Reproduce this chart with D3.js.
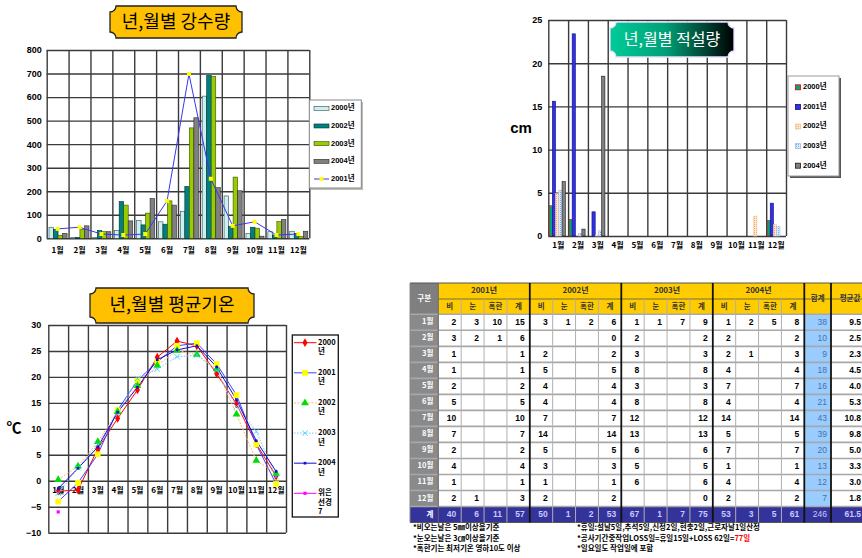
<!DOCTYPE html>
<html><head><meta charset="utf-8">
<script src="https://cdn.jsdelivr.net/npm/d3@7"></script>
<style>
body{margin:0;background:#fff;}
svg{display:block;}
</style></head><body>
<svg id="c" width="862" height="558"></svg>
<script>
// ---------------- data ----------------
const months = ["1월","2월","3월","4월","5월","6월","7월","8월","9월","10월","11월","12월"];

// monthly precipitation (mm)
const rain2000 = [47,4,4,33,75,70,115,604,180,21,28,30];
const rain2002 = [38,4,33,156,57,60,220,692,50,47,14,21];
const rain2003 = [13,38,28,141,107,159,469,687,260,43,71,7];
const rain2004 = [21,53,28,74,169,141,512,215,202,9,80,30];
const rain2001 = [40,47,18,14,18,159,698,253,53,70,14,18];
const rainTicks = [0,100,200,300,400,500,600,700,800];

// monthly snow depth (cm)
const snow2000 = [3.5,1.9,0,0,0,0,0,0,0,0,0,1.8];
const snow2001 = [15.6,23.4,2.8,0,0,0,0,0,0,0,0,3.8];
const snow2002 = [4.9,0,0.1,0,0,0,0,0,0,0,2.3,1.3];
const snow2003 = [5.3,0.3,0.6,0,0,0,0,0,0,0,0,1.1];
const snow2004 = [6.3,0.8,18.5,0,0,0,0,0,0,0,0,0];
const snowTicks = [0,5,10,15,20,25];

// monthly mean temperature (°C)
const temp2000 = [-2.0,-1.8,6.2,12.0,17.5,23.8,26.9,26.0,20.6,14.8,7.1,0.9];
const temp2001 = [-4.0,-0.4,5.1,13.6,19.3,22.9,26.0,26.5,22.5,16.5,7.0,-0.6];
const temp2002 = [0.2,2.8,7.5,13.3,18.3,22.2,25.1,24.3,21.5,12.8,3.9,1.4];
const temp2003 = [-2.4,2.5,7.0,13.0,19.7,21.5,23.9,24.2,21.2,14.3,9.5,0.8];
const temp2004 = [-1.5,2.4,6.5,13.2,18.0,23.3,25.2,26.0,21.9,15.6,7.7,1.8];
const tempNormal = [-6.0];
const tempTicks = [-10,-5,0,5,10,15,20,25,30];

// lost working days per month: rain / snow / severe cold
const years = ["2001년","2002년","2003년","2004년"];
const subHeads = ["비","눈","혹한","계"];
const rainDays2001 = [2,3,1,1,2,5,10,7,2,4,1,2];
const snowDays2001 = [3,2,null,null,null,null,null,null,null,null,null,1];
const coldDays2001 = [10,1,null,null,null,null,null,null,null,null,null,null];
const rainDays2002 = [3,null,2,5,4,4,7,14,5,3,1,2];
const snowDays2002 = [1,null,null,null,null,null,null,null,null,null,null,null];
const coldDays2002 = [2,null,null,null,null,null,null,null,null,null,null,null];
const rainDays2003 = [1,2,3,8,3,8,12,13,6,5,6,null];
const snowDays2003 = [1,null,null,null,null,null,null,null,null,null,null,null];
const coldDays2003 = [7,null,null,null,null,null,null,null,null,null,null,null];
const rainDays2004 = [1,2,2,4,7,4,14,5,7,1,4,2];
const snowDays2004 = [2,null,1,null,null,null,null,null,null,null,null,null];
const coldDays2004 = [5,null,null,null,null,null,null,null,null,null,null,null];

// ---------------- helpers ----------------
const svg = d3.select("#c");
const KR = "'Noto Sans CJK KR',sans-serif";
const SM = "'Liberation Sans','Noto Sans CJK KR',sans-serif";

function notch(x,y,w,h,r){
  return `M${x+r},${y}H${x+w-r}A${r},${r} 0 0 0 ${x+w},${y+r}V${y+h-r}A${r},${r} 0 0 0 ${x+w-r},${y+h}H${x+r}A${r},${r} 0 0 0 ${x},${y+h-r}V${y+r}A${r},${r} 0 0 0 ${x+r},${y}Z`;
}
function titleBox(x,y,w,h,fill,stroke,text,color,fs){
  const g = svg.append("g");
  g.append("path").attr("d",notch(x,y,w,h,6)).attr("fill",fill).attr("stroke",stroke).attr("stroke-width",1.3);
  g.append("text").attr("x",x+w/2).attr("y",y+h/2+1).attr("text-anchor","middle").attr("dominant-baseline","middle")
    .attr("font-family",KR).attr("font-size",fs).attr("font-weight",400).attr("fill",color).text(text);
}
function frame(g, xb, y, ticks, pad, col){
  const x0 = xb.range()[0], x1 = xb.range()[1];
  const y0 = y.range()[1], y1 = y.range()[0];
  // horizontal grid + value labels
  g.append("g").attr("transform",`translate(${x0},0)`)
    .call(d3.axisLeft(y).tickValues(ticks).tickSize(-(x1-x0)).tickPadding(pad))
    .call(a=>{a.select(".domain").remove();
      a.selectAll("line").attr("stroke",col).attr("stroke-width",1.4);
      a.selectAll("text").attr("font-family",SM).attr("font-size",9).attr("font-weight","bold").attr("fill","#000");});
  // vertical column boundaries
  const e = d3.scaleLinear().domain([0,12]).range([x0,x1]);
  g.append("g").attr("transform",`translate(0,${y0})`)
    .call(d3.axisTop(e).tickValues(d3.range(13)).tickSize(-(y1-y0)).tickFormat(""))
    .call(a=>{a.select(".domain").remove(); a.selectAll("line").attr("stroke",col).attr("stroke-width",1.4);});
}
function monthAxis(g, xb, yPos, pad){
  g.append("g").attr("transform",`translate(0,${yPos})`)
    .call(d3.axisBottom(xb).tickSize(0).tickPadding(pad))
    .call(a=>{a.select(".domain").remove();
      a.selectAll("text").attr("font-family",KR).attr("font-size",8).attr("font-weight","bold").attr("fill","#000");});
}

// patterns for hatched snow series
const defs = svg.append("defs");
function dotPattern(id, base, dot){
  const p = defs.append("pattern").attr("id",id).attr("width",2).attr("height",2).attr("patternUnits","userSpaceOnUse");
  p.append("rect").attr("width",2).attr("height",2).attr("fill",base);
  p.append("rect").attr("width",1).attr("height",1).attr("fill",dot);
}
dotPattern("p2002","#FFE6CC","#F2A860");
dotPattern("p2003","#DDEBFF","#7FA8E6");
const grad = defs.append("linearGradient").attr("id","tg").attr("x1","0").attr("x2","1").attr("y1","0").attr("y2","0");
grad.append("stop").attr("offset","0").attr("stop-color","#00CC99");
grad.append("stop").attr("offset","0.45").attr("stop-color","#00A077");
grad.append("stop").attr("offset","1").attr("stop-color","#000");

// ---------------- precipitation chart ----------------
{
  const g = svg.append("g");
  const x = d3.scaleBand().domain(months).range([46.7,309.3]);
  const y = d3.scaleLinear().domain([0,800]).range([238.3,50]);
  frame(g, x, y, rainTicks, 5, "#3a3a3a");
  const series = [
    {key:"2000년", vals:rain2000, fill:"#CDEFEF", stroke:"#2f4f4f"},
    {key:"2002년", vals:rain2002, fill:"#008080", stroke:"#003030"},
    {key:"2003년", vals:rain2003, fill:"#99CC00", stroke:"#3a4d00"},
    {key:"2004년", vals:rain2004, fill:"#808080", stroke:"#2a2a2a"}
  ];
  const xi = d3.scaleBand().domain(series.map(s=>s.key)).range([2.3, x.bandwidth()-1.5]);
  series.forEach(s=>{
    g.append("g").selectAll("rect").data(s.vals).join("rect")
      .attr("x",(d,i)=>x(months[i])+xi(s.key)).attr("width",xi.bandwidth())
      .attr("y",d=>y(d)).attr("height",d=>y(0)-y(d))
      .attr("fill",s.fill).attr("stroke",s.stroke).attr("stroke-width",0.6);
  });
  const line = d3.line().x((d,i)=>x(months[i])+x.bandwidth()/2).y(d=>y(d));
  g.append("path").datum(rain2001).attr("d",line).attr("fill","none").attr("stroke","#3838F0").attr("stroke-width",1);
  g.append("g").selectAll("rect").data(rain2001).join("rect")
    .attr("x",(d,i)=>x(months[i])+x.bandwidth()/2-2).attr("y",d=>y(d)-2).attr("width",4).attr("height",4).attr("fill","#FFFF00");
  monthAxis(g, x, 238.3, 9);
  // legend
  const lg = g.append("g");
  lg.append("rect").attr("x",311).attr("y",102).attr("width",52).attr("height",88).attr("fill","#bbb");
  lg.append("rect").attr("x",309.3).attr("y",100).attr("width",52).attr("height",88).attr("fill","#fff").attr("stroke","#888").attr("stroke-width",1);
  const items = series.map(s=>({key:s.key,type:"bar",fill:s.fill,stroke:s.stroke})).concat([{key:"2001년",type:"line"}]);
  const ly = d3.scalePoint().domain(items.map(d=>d.key+d.type)).range([108.3,179]);
  items.forEach(it=>{
    const yy = ly(it.key+it.type);
    if(it.type==="bar"){
      lg.append("rect").attr("x",314).attr("y",yy-2).attr("width",15).attr("height",4).attr("fill",it.fill).attr("stroke",it.stroke).attr("stroke-width",0.6);
    } else {
      lg.append("line").attr("x1",314).attr("x2",329).attr("y1",yy).attr("y2",yy).attr("stroke","#3838F0");
      lg.append("rect").attr("x",319.5).attr("y",yy-2).attr("width",4).attr("height",4).attr("fill","#FFFF00");
    }
    lg.append("text").attr("x",331).attr("y",yy).attr("dominant-baseline","middle").attr("font-family",SM)
      .attr("font-size",7.5).attr("font-weight","bold").text(it.key);
  });
  titleBox(110,6,132,32,"#FFC000","#222","년,월별 강수량","#000",18);
}

// ---------------- snow chart ----------------
{
  const g = svg.append("g");
  const x = d3.scaleBand().domain(months).range([548.3,786]);
  const y = d3.scaleLinear().domain([0,25]).range([236,20]);
  frame(g, x, y, snowTicks, 6, "#3a3a3a");
  const series = [
    {key:"2000년", vals:snow2000, fill:"#00A67A", stroke:"#E00000"},
    {key:"2001년", vals:snow2001, fill:"#3030E6", stroke:"#101080"},
    {key:"2002년", vals:snow2002, fill:"url(#p2002)", stroke:"#F5C8A0"},
    {key:"2003년", vals:snow2003, fill:"url(#p2003)", stroke:"#9DBDEB"},
    {key:"2004년", vals:snow2004, fill:"#808080", stroke:"#1a1a1a"}
  ];
  const xi = d3.scaleBand().domain(series.map(s=>s.key)).range([0.8, 17]);
  series.forEach(s=>{
    g.append("g").selectAll("rect").data(s.vals).join("rect")
      .attr("x",(d,i)=>x(months[i])+xi(s.key)).attr("width",xi.bandwidth())
      .attr("y",d=>y(d)).attr("height",d=>y(0)-y(d))
      .attr("fill",s.fill).attr("stroke",d=>d>0?s.stroke:"none").attr("stroke-width",0.6);
  });
  monthAxis(g, x, 236, 6);
  g.append("text").attr("x",521).attr("y",129).attr("text-anchor","middle").attr("dominant-baseline","middle")
    .attr("font-family",SM).attr("font-size",15).attr("font-weight","bold").text("cm");
  // legend
  const lg = g.append("g");
  lg.append("rect").attr("x",790).attr("y",78).attr("width",51).attr("height",100).attr("fill","#555");
  lg.append("rect").attr("x",788).attr("y",76).attr("width",51).attr("height",100).attr("fill","#fff").attr("stroke","#999");
  const ly = d3.scalePoint().domain(series.map(s=>s.key)).range([87.3,165.7]);
  series.forEach(s=>{
    const yy = ly(s.key);
    lg.append("rect").attr("x",795.5).attr("y",yy-2.5).attr("width",5).attr("height",5).attr("fill",s.fill).attr("stroke",s.stroke).attr("stroke-width",0.8);
    lg.append("text").attr("x",803).attr("y",yy).attr("dominant-baseline","middle").attr("font-family",SM)
      .attr("font-size",7.5).attr("font-weight","bold").text(s.key);
  });
  titleBox(610,22,124,35,"url(#tg)","#E8E0FF","년,월별 적설량","#fff",16);
}

// ---------------- temperature chart ----------------
{
  const g = svg.append("g");
  const x = d3.scaleBand().domain(months).range([48.3,286]);
  const y = d3.scaleLinear().domain([-10,30]).range([532.7,325]);
  frame(g, x, y, tempTicks, 7, "#3a3a3a");
  monthAxis(g, x, y(0), 7);
  g.append("text").attr("x",14).attr("y",429).attr("text-anchor","middle").attr("dominant-baseline","middle")
    .attr("font-family",KR).attr("font-size",15).attr("font-weight","bold").text("℃");
  const cx = i => x(months[i]) + x.bandwidth()/2;
  const series = [
    {label:["2000","년"], vals:temp2000, stroke:"#FF0000", dash:null, marker:"diamond", mfill:"#FF0000", size:22},
    {label:["2001","년"], vals:temp2001, stroke:"#4040FF", dash:null, marker:"square", mfill:"#FFFF00", size:32},
    {label:["2002","년"], vals:temp2002, stroke:"#FFB870", dash:"2,1.5", marker:"triangle", mfill:"#00DD00", size:26},
    {label:["2003","년"], vals:temp2003, stroke:"#80BFFF", dash:"1.5,1.5", marker:"cross", mfill:"#33CCFF", size:22},
    {label:["2004","년"], vals:temp2004, stroke:"#1010CC", dash:null, marker:"square", mfill:"#1010CC", size:7},
    {label:["위은","선경","7"], vals:tempNormal, stroke:"#FF00FF", dash:null, marker:"square", mfill:"#FF00FF", size:10}
  ];
  const sym = {diamond:d3.symbolDiamond, square:d3.symbolSquare, triangle:d3.symbolTriangle, cross:d3.symbolX};
  const line = d3.line().x((d,i)=>cx(i)).y(d=>y(d));
  series.forEach(s=>{
    g.append("path").datum(s.vals).attr("d",line).attr("fill","none").attr("stroke",s.stroke)
      .attr("stroke-width",1).attr("stroke-dasharray",s.dash);
  });
  series.forEach(s=>{
    g.append("g").selectAll("path").data(s.vals).join("path")
      .attr("transform",(d,i)=>`translate(${cx(i)},${y(d)})`)
      .attr("d",d3.symbol(sym[s.marker],s.size))
      .attr("fill",s.mfill).attr("stroke",s.marker==="cross"?s.mfill:"none").attr("stroke-width",0.8);
  });
  // legend
  const lg = g.append("g");
  lg.append("rect").attr("x",292.3).attr("y",335).attr("width",46).attr("height",182).attr("fill","#fff").attr("stroke","#111").attr("stroke-width",1.3);
  const ly = d3.scalePoint().domain(d3.range(series.length)).range([342.7,493.3]);
  series.forEach((s,k)=>{
    const yy = ly(k);
    lg.append("line").attr("x1",294).attr("x2",316.5).attr("y1",yy).attr("y2",yy).attr("stroke",s.stroke).attr("stroke-dasharray",s.dash);
    lg.append("path").attr("transform",`translate(305,${yy})`).attr("d",d3.symbol(sym[s.marker],s.size))
      .attr("fill",s.mfill).attr("stroke",s.marker==="cross"?s.mfill:"none").attr("stroke-width",0.8);
    s.label.forEach((l,j)=>{
      lg.append("text").attr("x",318).attr("y",yy+j*9.5).attr("dominant-baseline","middle")
        .attr("font-family",KR).attr("font-size",7.5).attr("font-weight","bold").text(l);
    });
  });
  titleBox(90,288,164,35,"#FFC000","#222","년,월별 평균기온","#000",18);
}

// ---------------- lost-days table ----------------
{
  const g = svg.append("g");
  const perYear = [
    [rainDays2001,snowDays2001,coldDays2001],
    [rainDays2002,snowDays2002,coldDays2002],
    [rainDays2003,snowDays2003,coldDays2003],
    [rainDays2004,snowDays2004,coldDays2004]
  ];
  const rowKeys = months.concat(["계"]);
  const rowVals = months.map((m,i)=>{
    const cells = [];
    perYear.forEach(yr=>{
      const a = yr.map(arr=>arr[i]);
      cells.push(...a, d3.sum(a));
    });
    return cells;
  });
  const totalRow = d3.range(16).map(c=>d3.sum(rowVals,r=>r[c]));
  rowVals.push(totalRow);
  const sums = rowVals.map(r=>r[3]+r[7]+r[11]+r[15]);

  const L = 410, MX = 438.3, SX = 804.3, TX = 831, RX = 878;
  const H1 = 283, H2 = 299, H3 = 314.3, B = 522.5;
  const col = d3.scaleBand().domain(d3.range(16)).range([MX,SX]);
  const row = d3.scaleBand().domain(rowKeys).range([H3,B]);
  const font = t=>t.attr("font-family",SM).attr("font-size",8.5).attr("font-weight","bold");

  // header
  g.append("rect").attr("x",L).attr("y",H1).attr("width",MX-L).attr("height",H3-H1).attr("fill","#7f7f7f");
  g.append("rect").attr("x",MX).attr("y",H1).attr("width",RX-MX).attr("height",H3-H1).attr("fill","#FFCC00");
  g.append("text").attr("x",(L+MX)/2).attr("y",(H1+H3)/2).attr("text-anchor","middle").attr("dominant-baseline","middle")
    .attr("fill","#fff").call(font).attr("font-family",KR).attr("font-size",7.5).text("구분");
  years.forEach((yr,k)=>{
    g.append("text").attr("x",col(k*4)+col.bandwidth()*2).attr("y",(H1+H2)/2).attr("text-anchor","middle").attr("dominant-baseline","middle")
      .attr("fill","#333").call(font).attr("font-family",KR).attr("font-size",8).text(yr);
  });
  d3.range(16).forEach(c=>{
    g.append("text").attr("x",col(c)+col.bandwidth()/2).attr("y",(H2+H3)/2).attr("text-anchor","middle").attr("dominant-baseline","middle")
      .attr("fill","#333").call(font).attr("font-family",KR).attr("font-size",7.5).text(subHeads[c%4]);
  });
  g.append("text").attr("x",(SX+TX)/2).attr("y",(H1+H3)/2).attr("text-anchor","middle").attr("dominant-baseline","middle")
    .attr("fill","#333").call(font).attr("font-family",KR).attr("font-size",7.5).text("합계");
  g.append("text").attr("x",850).attr("y",(H1+H3)/2).attr("text-anchor","middle").attr("dominant-baseline","middle")
    .attr("fill","#333").call(font).attr("font-family",KR).attr("font-size",7.5).text("평균값");

  // body backgrounds
  months.forEach(m=>{
    g.append("rect").attr("x",L).attr("y",row(m)).attr("width",MX-L).attr("height",row.bandwidth()).attr("fill","#8a8a8a");
    g.append("rect").attr("x",SX).attr("y",row(m)).attr("width",TX-SX).attr("height",row.bandwidth()).attr("fill","#99CCFF");
  });
  g.append("rect").attr("x",L).attr("y",row("계")).attr("width",RX-L).attr("height",row.bandwidth()).attr("fill","#333399");

  // grid lines
  rowKeys.forEach(k=>{
    g.append("line").attr("x1",L).attr("x2",RX).attr("y1",row(k)).attr("y2",row(k)).attr("stroke","#a8a8a8").attr("stroke-width",1.6);
  });
  g.append("line").attr("x1",MX).attr("x2",RX).attr("y1",H2).attr("y2",H2).attr("stroke","#555").attr("stroke-width",0.8);
  g.append("line").attr("x1",L).attr("x2",RX).attr("y1",H1).attr("y2",H1).attr("stroke","#555").attr("stroke-width",1);
  g.append("line").attr("x1",L).attr("x2",RX).attr("y1",B).attr("y2",B).attr("stroke","#555").attr("stroke-width",1);
  d3.range(16).forEach(c=>{
    if(c%4===0) return;
    g.append("line").attr("x1",col(c)).attr("x2",col(c)).attr("y1",H2).attr("y2",B).attr("stroke","#b0b0b0").attr("stroke-width",1);
  });
  [col(4),col(8),col(12),SX,TX].forEach(xx=>{
    g.append("line").attr("x1",xx).attr("x2",xx).attr("y1",H1).attr("y2",B).attr("stroke","#111").attr("stroke-width",1.8);
  });
  g.append("line").attr("x1",MX).attr("x2",MX).attr("y1",H1).attr("y2",B).attr("stroke","#666").attr("stroke-width",1);
  g.append("line").attr("x1",L).attr("x2",L).attr("y1",H1).attr("y2",B).attr("stroke","#888").attr("stroke-width",1);

  // body text
  rowKeys.forEach((k,ri)=>{
    const yy = row(k)+row.bandwidth()/2;
    const isTot = k==="계";
    g.append("text").attr("x",MX-5).attr("y",yy).attr("text-anchor","end").attr("dominant-baseline","middle")
      .attr("fill","#fff").call(font).attr("font-family",KR).attr("font-size",7.5).text(k);
    rowVals[ri].forEach((v,c)=>{
      if(v===null || v===undefined) return;
      g.append("text").attr("x",col(c)+col.bandwidth()-5).attr("y",yy).attr("text-anchor","end").attr("dominant-baseline","middle")
        .attr("fill",isTot?"#C8C8FF":"#000").call(font).text(v);
    });
    g.append("text").attr("x",TX-4).attr("y",yy).attr("text-anchor","end").attr("dominant-baseline","middle")
      .attr("fill",isTot?"#C8C8FF":"#4A70A8").call(font).attr("font-weight","normal").text(sums[ri]);
    g.append("text").attr("x",861).attr("y",yy).attr("text-anchor","end").attr("dominant-baseline","middle")
      .attr("fill",isTot?"#C8C8FF":"#000").call(font).text((sums[ri]/4).toFixed(1));
  });

  // notes
  const notesL = ["*비오는날은 5㎜이상을기준","*눈오는날은 3㎝이상을기준","*혹한기는 최저기온 영하10도 이상"];
  const nf = t=>t.attr("font-family",KR).attr("font-size",7.5).attr("font-weight","bold").attr("fill","#000");
  notesL.forEach((n,i)=>g.append("text").attr("x",413).attr("y",530+i*10.5).call(nf).text(n));
  g.append("text").attr("x",577).attr("y",530).call(nf).text("*휴일:설날5일,추석5일,신정2일,현충2일,근로자날1일산정");
  const t2 = g.append("text").attr("x",577).attr("y",540.5).call(nf);
  t2.append("tspan").text("*공사기간중작업LOSS일=휴일15일+LOSS 62일=");
  t2.append("tspan").attr("fill","#FF0000").text("77일");
  g.append("text").attr("x",577).attr("y",551).call(nf).text("*일요일도 작업일에 포함");
}
</script>
</body></html>
